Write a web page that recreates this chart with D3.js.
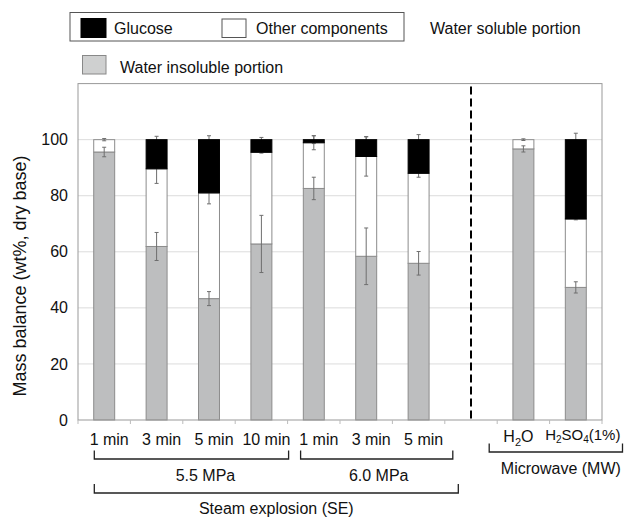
<!DOCTYPE html>
<html>
<head>
<meta charset="utf-8">
<script src="https://cdn.jsdelivr.net/npm/d3@7"></script>
<style>
body{margin:0;background:#fff;}
svg{font-family:"Liberation Sans", Arial, sans-serif;}
</style>
</head>
<body>
<script>
//categories (one per slot, slot 7 is the gap before the microwave bars)
var categories = ["1 min","3 min","5 min","10 min","1 min","3 min","5 min","","H2O","H2SO4(1%)"];

//series values (wt%)
var insoluble = [95.6, 61.9, 43.3, 62.8, 82.6, 58.4, 55.9, 0, 96.7, 47.3];
var others    = [4.4, 27.7, 37.7, 32.7, 16.3, 35.6, 32.1, 0, 3.3, 24.4];
var glucose   = [0, 10.4, 19.0, 4.5, 1.1, 6.0, 12.0, 0, 0, 28.3];

//error bars (+/-) at the top of each segment
var insolubleErr = [1.7, 5.0, 2.5, 10.2, 4.0, 10.1, 4.2, 0, 1.1, 2.0];
var othersErr    = [0.4, 5.2, 3.9, 0.3, 2.5, 7.0, 1.4, 0, 0.3, 0.3];
var glucoseErr   = [0, 1.2, 1.4, 0.8, 1.4, 1.1, 1.8, 0, 0, 2.3];

var yTicks = [0, 20, 40, 60, 80, 100];

var W = 625, H = 518;
var plotLeft = 78, plotRight = 602, plotTop = 83.6, plotBottom = 420;

var svg = d3.select("body").append("svg")
  .attr("width", W)
  .attr("height", H);

var idx = d3.range(categories.length);
var x = d3.scaleBand().domain(idx).range([plotLeft, plotRight]).paddingInner(0.6).paddingOuter(0.3);
var y = d3.scaleLinear().domain([0, 120]).range([plotBottom, plotTop]);
var step = x.step();

//gridlines
svg.append("g").selectAll("line")
  .data(yTicks.filter(function(t){return t > 0;}))
  .enter().append("line")
  .attr("x1", plotLeft).attr("x2", plotRight)
  .attr("y1", function(d){return y(d);}).attr("y2", function(d){return y(d);})
  .attr("stroke", "#dcdcdc").attr("stroke-width", 1);

//y axis labels
var yAxis = svg.append("g")
  .attr("transform", "translate(" + plotLeft + ",0)")
  .call(d3.axisLeft(y).tickValues(yTicks).tickSize(0).tickPadding(10));
yAxis.select(".domain").remove();
yAxis.selectAll("text").attr("font-size", 16).attr("fill", "#111")
  .attr("font-family", "Liberation Sans, Arial, sans-serif");

//stack
var table = idx.map(function(i){
  return {i: i, insoluble: insoluble[i], others: others[i], glucose: glucose[i]};
});
var keys = ["insoluble", "others", "glucose"];
var errs = {insoluble: insolubleErr, others: othersErr, glucose: glucoseErr};
var fills = {insoluble: "#bdbebf", others: "#ffffff", glucose: "#000000"};
var strokes = {insoluble: "#8c8c8c", others: "#8c8c8c", glucose: "#000000"};
var series = d3.stack().keys(keys)(table);

function drawBars(s){
  svg.append("g").selectAll("rect")
    .data(s.filter(function(d){return d[1] - d[0] > 0;}))
    .enter().append("rect")
    .attr("x", function(d){return x(d.data.i);})
    .attr("width", x.bandwidth())
    .attr("y", function(d){return y(d[1]);})
    .attr("height", function(d){return y(d[0]) - y(d[1]);})
    .attr("fill", fills[s.key])
    .attr("stroke", strokes[s.key])
    .attr("stroke-width", 1);
}

function drawErr(s){
  var e = errs[s.key];
  var g = svg.append("g").attr("stroke", "#6e6e6e").attr("stroke-width", 1);
  s.forEach(function(d){
    var i = d.data.i;
    if(!(e[i] > 0) || d[1] - d[0] <= 0) return;
    var cx = x(i) + x.bandwidth() / 2;
    var y1 = y(d[1] + e[i]), y2 = y(d[1] - e[i]);
    g.append("line").attr("x1", cx).attr("x2", cx).attr("y1", y1).attr("y2", y2);
    g.append("line").attr("x1", cx - 2).attr("x2", cx + 2).attr("y1", y1).attr("y2", y1);
    g.append("line").attr("x1", cx - 2).attr("x2", cx + 2).attr("y1", y2).attr("y2", y2);
  });
}

drawBars(series[0]);
drawBars(series[1]);
drawErr(series[0]);
drawErr(series[1]);
drawErr(series[2]);
drawBars(series[2]);

//plot frame
svg.append("rect")
  .attr("x", plotLeft).attr("y", plotTop)
  .attr("width", plotRight - plotLeft).attr("height", plotBottom - plotTop)
  .attr("fill", "none").attr("stroke", "#999").attr("stroke-width", 1);

//x ticks at slot boundaries
svg.append("g").selectAll("line")
  .data(d3.range(categories.length + 1))
  .enter().append("line")
  .attr("x1", function(d){return plotLeft + d * step;})
  .attr("x2", function(d){return plotLeft + d * step;})
  .attr("y1", plotBottom).attr("y2", plotBottom + 4)
  .attr("stroke", "#bbb");

//dashed separator in the empty slot
var sepX = x(7) + x.bandwidth() / 2;
svg.append("line")
  .attr("x1", sepX).attr("x2", sepX)
  .attr("y1", plotTop + 3).attr("y2", plotBottom - 1)
  .attr("stroke", "#000").attr("stroke-width", 2)
  .attr("stroke-dasharray", "8,4");

//category labels
var labG = svg.append("g").attr("font-size", 16).attr("fill", "#111");
idx.forEach(function(i){
  var c = categories[i];
  if(!c) return;
  var cx = x(i) + x.bandwidth() / 2;
  if(c === "H2O"){
    var t = labG.append("text").attr("x", cx - 5).attr("y", 442).attr("text-anchor", "middle");
    t.append("tspan").text("H");
    t.append("tspan").text("2").attr("font-size", 11).attr("dy", 4);
    t.append("tspan").text("O").attr("dy", -4);
  } else if(c === "H2SO4(1%)"){
    var t2 = labG.append("text").attr("x", cx + 7).attr("y", 440).attr("text-anchor", "middle").attr("font-size", 15);
    t2.append("tspan").text("H");
    t2.append("tspan").text("2").attr("font-size", 10).attr("dy", 3);
    t2.append("tspan").text("SO").attr("dy", -3);
    t2.append("tspan").text("4").attr("font-size", 10).attr("dy", 3);
    t2.append("tspan").text("(1%)").attr("dy", -3);
  } else {
    labG.append("text").attr("x", cx + 5).attr("y", 445).attr("text-anchor", "middle").text(c);
  }
});

//group brackets
var brackets = [
  {label: "5.5 MPa", x0: plotLeft + 16.3, x1: plotLeft + 4 * step + 1, y: 459, h: 8.5, ty: 481, dx: 14},
  {label: "6.0 MPa", x0: plotLeft + 4 * step + 13, x1: plotLeft + 7 * step + 8, y: 459, h: 8.5, ty: 481, dx: 2},
  {label: "Steam explosion (SE)", x0: plotLeft + 16.3, x1: plotLeft + 7 * step + 13.5, y: 493, h: 9, ty: 514, dx: 0},
  {label: "Microwave (MW)", x0: plotLeft + 8 * step - 8, x1: plotLeft + 10 * step + 20.5, y: 452, h: 8.5, ty: 474, dx: 5}
];
var bG = svg.append("g");
brackets.forEach(function(b){
  bG.append("path")
    .attr("d", "M" + b.x0 + "," + (b.y - b.h) + "V" + b.y + "H" + b.x1 + "V" + (b.y - b.h))
    .attr("fill", "none").attr("stroke", "#222").attr("stroke-width", 1.3);
  bG.append("text")
    .attr("x", (b.x0 + b.x1) / 2 + b.dx).attr("y", b.ty)
    .attr("text-anchor", "middle").attr("font-size", 16).attr("fill", "#111")
    .text(b.label);
});

//y axis title
svg.append("text")
  .attr("transform", "translate(26,276) rotate(-90)")
  .attr("text-anchor", "middle").attr("font-size", 18).attr("fill", "#111")
  .text("Mass balance (wt%, dry base)");

//legend
var lg = svg.append("g").attr("font-size", 16).attr("fill", "#111");
lg.append("rect").attr("x", 70).attr("y", 12.5).attr("width", 334).attr("height", 28.5)
  .attr("fill", "#fff").attr("stroke", "#555").attr("stroke-width", 1);
lg.append("rect").attr("x", 81).attr("y", 18.5).attr("width", 25).attr("height", 19)
  .attr("fill", fills.glucose).attr("stroke", "#000");
lg.append("text").attr("x", 114).attr("y", 34).text("Glucose");
lg.append("rect").attr("x", 222).attr("y", 19).attr("width", 24).attr("height", 18.5)
  .attr("fill", fills.others).attr("stroke", "#555");
lg.append("text").attr("x", 256).attr("y", 34).text("Other components");
lg.append("text").attr("x", 430).attr("y", 34).text("Water soluble portion");
lg.append("rect").attr("x", 82.5).attr("y", 55.5).attr("width", 23.5).attr("height", 18.5)
  .attr("fill", "#cfd0d0").attr("stroke", "#888");
lg.append("text").attr("x", 120).attr("y", 72.5).text("Water insoluble portion");
</script>
</body>
</html>
